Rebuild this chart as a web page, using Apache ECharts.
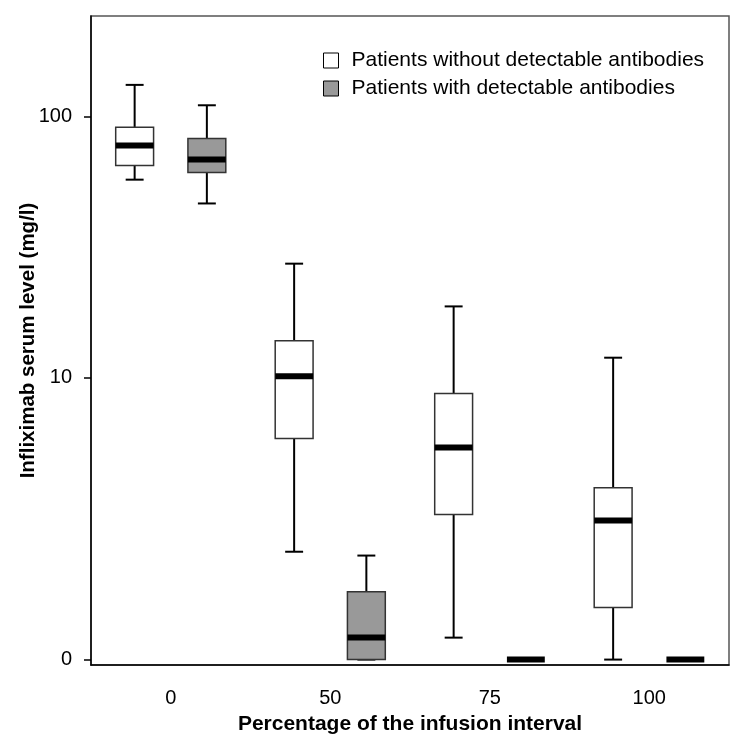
<!DOCTYPE html>
<html>
<head>
<meta charset="utf-8">
<script src="https://cdn.jsdelivr.net/npm/echarts@6/dist/echarts.min.js"></script>
<style>
html,body{margin:0;padding:0;background:#fff;}
#chart{width:739px;height:739px;}
</style>
</head>
<body>
<div id="chart"></div>
<script>
// ---- data (mg/l) ----
var categories = ['0', '50', '75', '100'];
var seriesNames = ['Patients without detectable antibodies', 'Patients with detectable antibodies'];
// each row: [min, Q1, median, Q3, max]
var withoutAntibodies = [
  [58, 65.5, 77.8, 91, 131],
  [1.5, 5.54, 10.1, 14.0, 27.9],
  [0.205, 2.43, 5.06, 8.58, 19.1],
  [0, 0.555, 2.26, 3.31, 12.0]
];
var withAntibodies = [
  [47.2, 61.7, 69, 82.7, 110],
  [0, 0, 0.206, 0.78, 1.42],
  [0, 0, 0, 0, 0],
  [0, 0, 0, 0, 0]
];
var yTickValues = [0, 10, 100];
var yRange = [-0.045, 236];

// axis scale: log10(value + 1)
function tf(v) { return Math.log10(v + 1); }
function untf(t) { return Math.pow(10, t) - 1; }

function buildData(rows) {
  return rows.map(function (r, i) {
    return [i].concat(r.map(tf));
  });
}

function makeRender(side, fill) {
  return function (params, api) {
    var bw = api.size([1, 0])[0];
    var avail = bw * 0.8 - 2;
    var gap = avail / 2 * 0.3;
    var w = (avail - gap) / 2;
    var off = side < 0 ? (w / 2 - avail / 2) : (w / 2 - avail / 2 + gap + w);
    var cx = api.coord([api.value(0), 0])[0] + off;
    var y = [1, 2, 3, 4, 5].map(function (k) { return api.coord([0, api.value(k)])[1]; });
    var boxW = bw * 0.2375;
    var capW = bw * 0.1125;
    var children = [];
    var isFlat = Math.abs(y[4] - y[0]) < 0.5;
    if (!isFlat) {
      var ws = { stroke: '#000', lineWidth: 2 };
      children.push({ type: 'line', shape: { x1: cx, y1: y[3], x2: cx, y2: y[4] }, style: ws });
      children.push({ type: 'line', shape: { x1: cx, y1: y[0], x2: cx, y2: y[1] }, style: ws });
      children.push({ type: 'line', shape: { x1: cx - capW / 2, y1: y[4], x2: cx + capW / 2, y2: y[4] }, style: ws });
      children.push({ type: 'line', shape: { x1: cx - capW / 2, y1: y[0], x2: cx + capW / 2, y2: y[0] }, style: ws });
      children.push({ type: 'rect', shape: { x: cx - boxW / 2, y: y[3], width: boxW, height: y[1] - y[3] },
        style: { fill: fill, stroke: '#333', lineWidth: 1.5 } });
    }
    children.push({ type: 'rect', shape: { x: cx - boxW / 2, y: y[2] - 3, width: boxW, height: 6 },
      style: { fill: '#000' } });
    return { type: 'group', children: children };
  };
}

var fontFam = '"Liberation Sans", Arial, sans-serif';
var chart = echarts.init(document.getElementById('chart'), null, { renderer: 'canvas' });
chart.setOption({
  animation: false,
  backgroundColor: '#fff',
  grid: { left: 91, right: 10, top: 16, bottom: 74, show: true, borderColor: '#555', borderWidth: 1.5,
    containLabel: false, outerBoundsMode: 'none' },
  legend: {
    orient: 'vertical',
    left: 323, top: 50, padding: 0,
    itemWidth: 15, itemHeight: 15, itemGap: 7,
    textStyle: { fontFamily: fontFam, fontSize: 21, lineHeight: 21, color: '#000', padding: [0, 0, 0, 8] },
    data: [
      { name: seriesNames[0], icon: 'rect', itemStyle: { color: '#fff', borderColor: '#000', borderWidth: 1 } },
      { name: seriesNames[1], icon: 'rect', itemStyle: { color: '#999', borderColor: '#000', borderWidth: 1 } }
    ]
  },
  xAxis: {
    type: 'category',
    data: categories,
    name: 'Percentage of the infusion interval',
    nameLocation: 'middle',
    nameGap: 49,
    nameMoveOverlap: false,
    nameTextStyle: { fontFamily: fontFam, fontSize: 21, fontWeight: 'bold', color: '#000' },
    axisLine: { onZero: false, lineStyle: { color: '#000', width: 1.5 } },
    axisTick: { alignWithLabel: true, length: 14, lineStyle: { color: '#000', width: 1.5 } },
    axisLabel: { fontFamily: fontFam, fontSize: 20, color: '#000', margin: 23 },
    splitLine: { show: false }
  },
  yAxis: {
    type: 'value',
    min: tf(yRange[0]),
    max: tf(yRange[1]),
    name: 'Infliximab serum level (mg/l)',
    nameLocation: 'middle',
    nameGap: 52,
    nameMoveOverlap: false,
    nameTextStyle: { fontFamily: fontFam, fontSize: 20.5, fontWeight: 'bold', color: '#000' },
    axisLine: { show: true, onZero: false, lineStyle: { color: '#000', width: 1.5 } },
    axisTick: { show: true, length: 7, customValues: yTickValues.map(tf), lineStyle: { color: '#000', width: 1.5 } },
    axisLabel: {
      fontFamily: fontFam, fontSize: 20, color: '#000', margin: 19,
      customValues: yTickValues.map(tf),
      formatter: function (t) { return String(Math.round(untf(t))); }
    },
    splitLine: { show: false }
  },
  series: [
    {
      name: seriesNames[0], type: 'custom',
      itemStyle: { color: '#fff', borderColor: '#000' },
      renderItem: makeRender(-1, '#fff'),
      encode: { x: 0, y: [1, 2, 3, 4, 5] },
      data: buildData(withoutAntibodies)
    },
    {
      name: seriesNames[1], type: 'custom',
      itemStyle: { color: '#999', borderColor: '#000' },
      renderItem: makeRender(1, '#999'),
      encode: { x: 0, y: [1, 2, 3, 4, 5] },
      data: buildData(withAntibodies)
    }
  ]
});
</script>
</body>
</html>
